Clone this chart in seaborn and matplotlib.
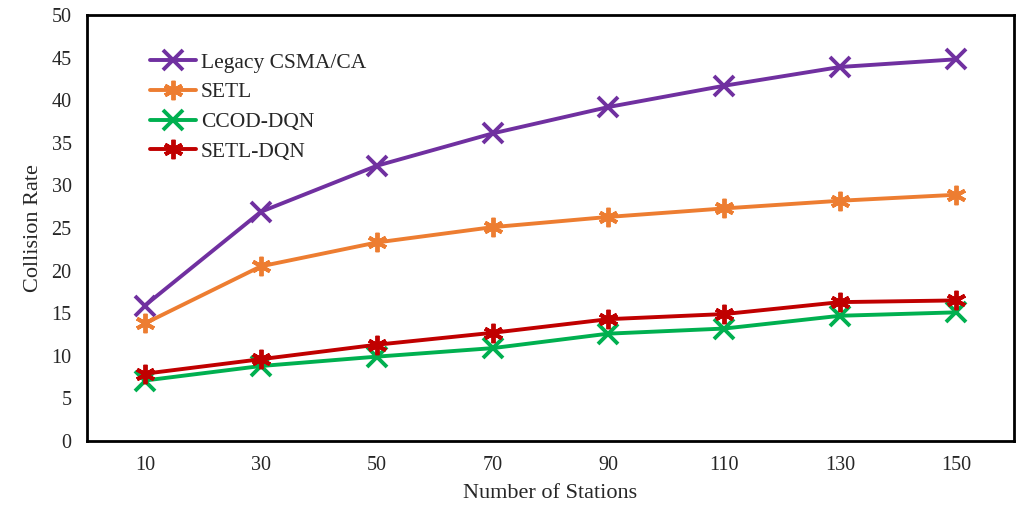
import pandas as pd
import numpy as np
import matplotlib.pyplot as plt
import seaborn as sns

stations = ["10", "30", "50", "70", "90", "110", "130", "150"]
legacy = [15.9, 26.9, 32.3, 36.1, 39.2, 41.7, 43.9, 44.8]
setl = [13.8, 20.5, 23.3, 25.1, 26.3, 27.3, 28.2, 28.9]
ccod = [7.1, 8.8, 9.9, 10.9, 12.6, 13.2, 14.7, 15.1]
setl_dqn = [7.9, 9.6, 11.3, 12.7, 14.3, 14.9, 16.3, 16.5]

series = ["Legacy CSMA/CA", "SETL", "CCOD-DQN", "SETL-DQN"]
colors = {"Legacy CSMA/CA": "#7030A0", "SETL": "#ED7D31",
          "CCOD-DQN": "#00B050", "SETL-DQN": "#C00000"}
star = (6, 2, 0)
markers = {"Legacy CSMA/CA": "x", "SETL": star, "CCOD-DQN": "x", "SETL-DQN": star}

df = pd.DataFrame({
    "Number of Stations": stations * 4,
    "Collision Rate": legacy + setl + ccod + setl_dqn,
    "method": np.repeat(series, len(stations)),
})

sns.set_style("white")
plt.rcParams["font.family"] = ["Liberation Serif", "DejaVu Serif"]

fig = plt.figure(figsize=(10.32, 5.08), dpi=100)
ax = fig.add_axes([87 / 1032, 1 - 441 / 508, (1014 - 87) / 1032, (441 - 15) / 508])

sns.lineplot(
    data=df, x="Number of Stations", y="Collision Rate",
    hue="method", style="method", hue_order=series, style_order=series,
    palette=colors, markers=markers, dashes=False,
    linewidth=2.8, markersize=14, markeredgewidth=2.8, ax=ax,
)
for line in ax.lines:
    line.set_markeredgecolor(line.get_color())

ax.set_xlim(-0.5, 7.5)
ax.set_ylim(0, 50)
ax.set_yticks(range(0, 51, 5))
ax.tick_params(direction="in", length=4, width=1.8, labelsize=14.5, pad=11)
for s in ax.spines.values():
    s.set_linewidth(2)
    s.set_color("black")
ax.set_xlabel("Number of Stations", fontsize=16, labelpad=6)
ax.set_ylabel("Collision Rate", fontsize=16, labelpad=6)

leg = ax.legend(
    loc="upper left", bbox_to_anchor=(0.059, 0.932), frameon=False,
    fontsize=15.5, handlelength=2.1, handletextpad=0.25, labelspacing=0.45,
    borderaxespad=0,
)
for h in leg.legend_handles:
    h.set_markeredgecolor(h.get_color())

fig.savefig("out.png", dpi=100)
